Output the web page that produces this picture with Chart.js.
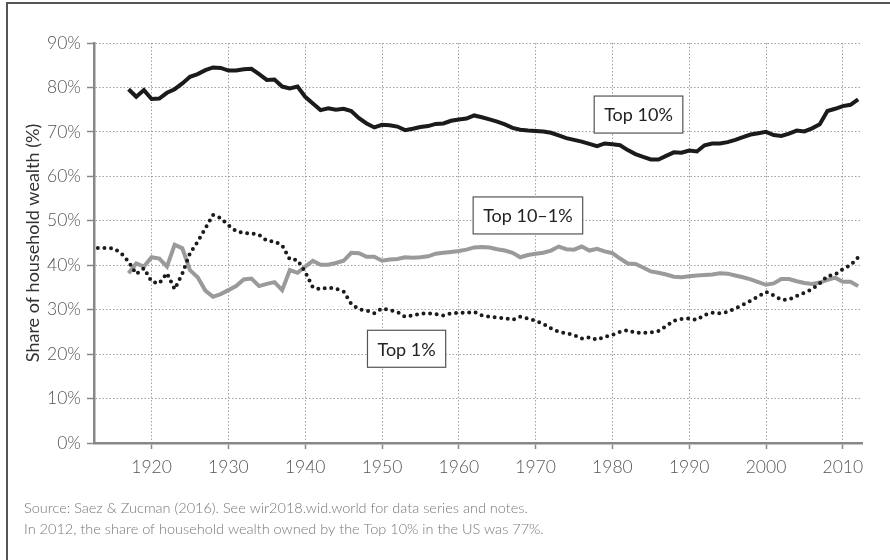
<!DOCTYPE html>
<html>
<head>
  <title>Top wealth shares, US</title>
  <script src="https://cdn.jsdelivr.net/npm/chart.js"></script>
  <style>
    body {
      margin: 0;
      padding: 0;
      background: #fff;
    }
    #wrap {
      width: 890px;
      height: 560px;
    }
  </style>
</head>
<body>
  <div id="wrap">
    <canvas id="wealthChart" width="890" height="560"></canvas>
  </div>
  <script>
    // values, in % of household wealth
    const top1Start = 1913;
    const top1 = [
      43.9, 43.9, 43.8, 42.8, 40.8, 38.0, 39.3,
      36.3, 35.9, 38.2, 34.6, 38.1, 42.7, 45.3, 48.3, 51.3, 50.6,
      49.0, 47.7, 47.2, 47.2, 46.8, 45.5, 45.3, 44.5, 41.3, 41.2,
      38.5, 35.0, 34.6, 35.0, 34.7, 34.1, 31.3, 30.1, 29.8, 29.2,
      30.3, 29.9, 29.5, 28.4, 28.7, 29.1, 29.2, 29.0, 28.7, 29.2,
      29.3, 29.3, 29.5, 28.7, 28.4, 28.2, 28.1, 27.7, 28.4, 28.0,
      27.5, 26.8, 25.8, 25.0, 24.7, 24.3, 23.5, 23.8, 23.2, 23.9,
      24.3, 25.0, 25.4, 24.8, 24.8, 24.9, 25.2, 26.3, 27.5, 27.9,
      28.0, 27.7, 28.8, 29.3, 29.2, 29.5, 30.3, 31.1, 32.0, 33.0,
      34.0, 33.2, 32.2, 32.3, 33.1, 33.8, 34.6, 35.9, 37.6, 37.9,
      39.1, 40.0, 41.8
    ];

    const top10Start = 1917;
    const top10 = [
      79.6, 77.9, 79.4,
      77.4, 77.5, 78.8, 79.6, 80.9, 82.4, 83.0, 83.9, 84.5, 84.4,
      83.8, 83.8, 84.1, 84.2, 83.0, 81.7, 81.8, 80.2, 79.8, 80.2,
      77.9, 76.4, 74.9, 75.3, 75.0, 75.2, 74.7, 73.1, 71.9, 71.0,
      71.6, 71.5, 71.2, 70.4, 70.7, 71.1, 71.3, 71.8, 71.9, 72.5,
      72.8, 73.0, 73.7, 73.3, 72.8, 72.3, 71.7, 70.9, 70.5, 70.3,
      70.2, 70.1, 69.8, 69.2, 68.6, 68.2, 67.8, 67.3, 66.8, 67.4,
      67.2, 67.0, 65.9, 65.0, 64.4, 63.8, 63.8, 64.6, 65.4, 65.3,
      65.8, 65.6, 67.0, 67.4, 67.4, 67.7, 68.2, 68.8, 69.4, 69.7,
      70.0, 69.3, 69.1, 69.6, 70.3, 70.1, 70.8, 71.7, 74.7, 75.2,
      75.8, 76.1, 77.3
    ];

    const top10to1Start = 1917;
    const top10to1 = [
      38.2, 40.4, 39.7,
      41.8, 41.5, 39.7, 44.6, 43.8, 38.9, 37.3, 34.3, 32.9, 33.5,
      34.4, 35.3, 36.8, 37.0, 35.3, 35.8, 36.2, 34.4, 38.9, 38.3,
      39.7, 41.0, 40.1, 40.1, 40.5, 41.0, 42.8, 42.7, 41.9, 41.9,
      41.0, 41.3, 41.4, 41.8, 41.7, 41.8, 42.0, 42.6, 42.8, 43.0,
      43.2, 43.5, 44.0, 44.1, 44.0, 43.6, 43.3, 42.8, 41.8, 42.3,
      42.6, 42.8, 43.3, 44.2, 43.6, 43.5, 44.2, 43.3, 43.7, 43.1,
      42.7, 41.5, 40.4, 40.3, 39.5, 38.6, 38.3, 37.9, 37.4, 37.3,
      37.5, 37.7, 37.8, 37.9, 38.2, 38.1, 37.7, 37.3, 36.8, 36.2,
      35.6, 35.9, 36.9, 36.9, 36.4, 36.0, 35.8, 36.1, 36.7, 37.2,
      36.3, 36.3, 35.3
    ];

    const yearTicks = [1920, 1930, 1940, 1950, 1960, 1970, 1980, 1990, 2000, 2010];
    const shareTicks = [0, 10, 20, 30, 40, 50, 60, 70, 80, 90];

    const seriesNames = ['Top 1%', 'Top 10%', 'Top 10–1%'];
    // label boxes: [name, year, share] at the box centre
    const labelBoxes = [
      ['Top 10%', 1983.4, 73.9],
      ['Top 10–1%', 1969.0, 51.2],
      ['Top 1%', 1953.2, 21.2]
    ];

    const sourceLines = [
      'Source: Saez & Zucman (2016). See wir2018.wid.world for data series and notes.',
      'In 2012, the share of household wealth owned by the Top 10% in the US was 77%.'
    ];

    function toPoints(start, values) {
      return values.map((v, i) => ({ x: start + i, y: v }));
    }

    const FONT = 'Lato, "Open Sans", sans-serif';

    const framePlugin = {
      id: 'frame',
      beforeDraw(chart) {
        const ctx = chart.ctx;
        ctx.save();
        ctx.fillStyle = '#fff';
        ctx.fillRect(0, 0, chart.width, chart.height);
        ctx.strokeStyle = '#555';
        ctx.lineWidth = 2;
        ctx.beginPath();
        ctx.moveTo(7, chart.height);
        ctx.lineTo(7, 3);
        ctx.lineTo(chart.width, 3);
        ctx.stroke();
        ctx.restore();
      },
      afterDraw(chart) {
        const ctx = chart.ctx;
        ctx.save();
        ctx.font = '300 14.5px ' + FONT;
        ctx.fillStyle = '#777';
        ctx.textBaseline = 'middle';
        ctx.fillText(sourceLines[0], 24, 508);
        ctx.fillText(sourceLines[1], 24, 529);
        ctx.restore();
      }
    };

    const boxPlugin = {
      id: 'boxes',
      afterDatasetsDraw(chart) {
        const ctx = chart.ctx;
        const xs = chart.scales.x, ys = chart.scales.y;
        ctx.save();
        ctx.font = '18px ' + FONT;
        ctx.textAlign = 'center';
        ctx.textBaseline = 'middle';
        labelBoxes.forEach(([name, year, share]) => {
          const cx = xs.getPixelForValue(year);
          const cy = ys.getPixelForValue(share);
          const w = ctx.measureText(name).width + 20;
          const h = 37;
          ctx.fillStyle = '#fff';
          ctx.fillRect(cx - w / 2, cy - h / 2, w, h);
          ctx.strokeStyle = '#555';
          ctx.lineWidth = 1.2;
          ctx.strokeRect(cx - w / 2, cy - h / 2, w, h);
          ctx.fillStyle = '#222';
          ctx.fillText(name, cx, cy + 1);
        });
        ctx.restore();
      }
    };

    const ctx = document.getElementById('wealthChart').getContext('2d');
    new Chart(ctx, {
      type: 'line',
      data: {
        datasets: [
          {
            label: seriesNames[0],
            data: toPoints(top1Start, top1),
            borderColor: '#1b1b1b',
            borderWidth: 4,
            borderDash: [0, 6.6],
            borderCapStyle: 'round',
            pointRadius: 0,
            tension: 0
          },
          {
            label: seriesNames[1],
            data: toPoints(top10Start, top10),
            borderColor: '#1b1b1b',
            borderWidth: 4,
            pointRadius: 0,
            tension: 0
          },
          {
            label: seriesNames[2],
            data: toPoints(top10to1Start, top10to1),
            borderColor: '#9a9a9a',
            borderWidth: 4,
            pointRadius: 0,
            tension: 0
          }
        ]
      },
      options: {
        responsive: false,
        animation: false,
        layout: {
          padding: { top: 43, right: 28, left: 0, bottom: 0 }
        },
        plugins: {
          legend: { display: false },
          tooltip: { enabled: false }
        },
        scales: {
          x: {
            type: 'linear',
            min: 1912.5,
            max: 2012.5,
            afterBuildTicks: (scale) => {
              scale.ticks = yearTicks.map(v => ({ value: v }));
            },
            afterFit: (scale) => { scale.height = 117; },
            grid: {
              color: '#a0a0a0',
              lineWidth: 1,
              tickLength: 6,
              tickColor: '#888',
              tickWidth: 1.5
            },
            border: { color: '#888', width: 2.5, dash: [1.5, 2] },
            ticks: {
              color: '#555',
              padding: 8,
              maxRotation: 0,
              font: { family: FONT, size: 17.5, weight: 300 },
              callback: (v) => String(v)
            }
          },
          y: {
            min: 0,
            max: 90,
            afterBuildTicks: (scale) => {
              scale.ticks = shareTicks.map(v => ({ value: v }));
            },
            afterFit: (scale) => { scale.width = 94; },
            grid: {
              color: '#a0a0a0',
              lineWidth: 1,
              tickLength: 7,
              tickColor: '#888',
              tickWidth: 1.5
            },
            border: { color: '#888', width: 2.5, dash: [1.5, 2] },
            ticks: {
              color: '#555',
              padding: 6,
              font: { family: FONT, size: 17.5, weight: 300 },
              callback: (v) => v + '%'
            },
            title: {
              display: true,
              text: 'Share of household wealth (%)',
              color: '#333',
              font: { family: FONT, size: 18 },
              padding: { top: 22, bottom: 0 }
            }
          }
        }
      },
      plugins: [framePlugin, boxPlugin]
    });
  </script>
</body>
</html>
